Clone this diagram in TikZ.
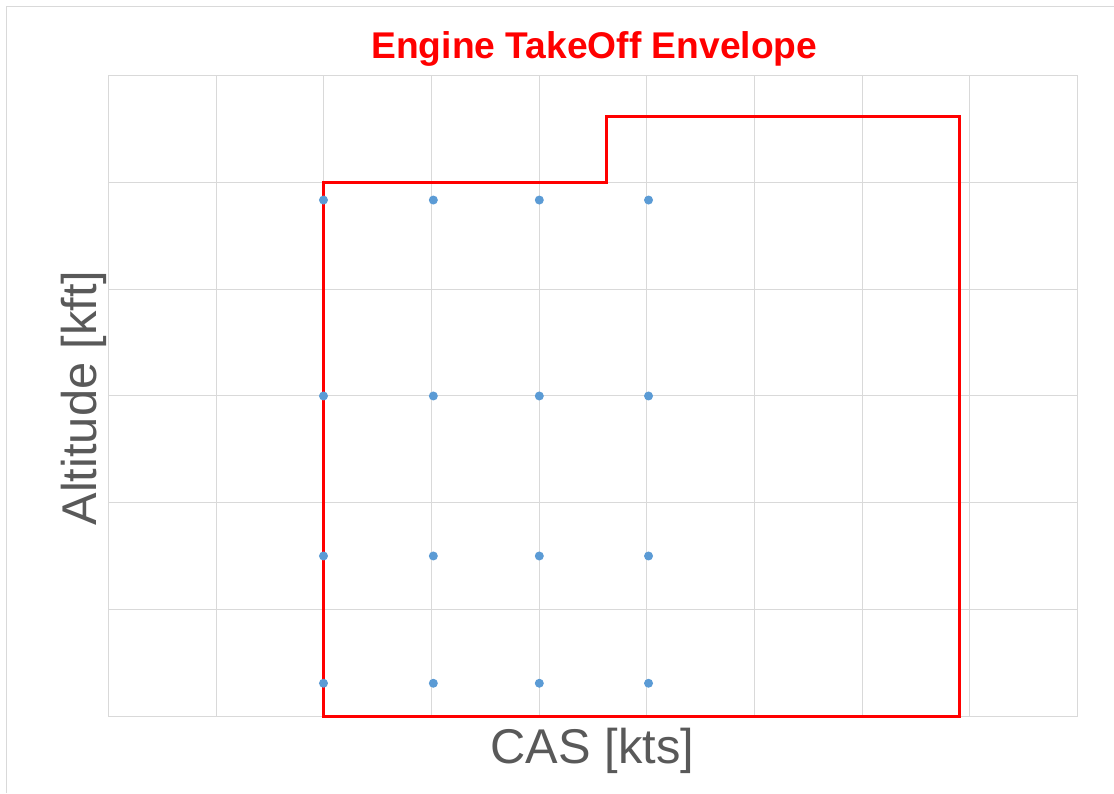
\documentclass[tikz,border=0pt]{standalone}
\usepackage{fontspec}
\setmainfont{Liberation Sans}
\usetikzlibrary{positioning}
\usepackage{xcolor}
\definecolor{gridgray}{HTML}{D9D9D9}
\definecolor{labelgray}{HTML}{595959}
\definecolor{ptblue}{HTML}{5B9BD5}

\begin{document}
\begin{tikzpicture}[x=107.7pt, y=106.67pt,
        gridline/.style={gridgray, line width=1pt},
        envelope/.style={red, line width=3pt, line join=miter},
        testpoint/.style={fill=ptblue},
        axislabel/.style={labelgray, font=\fontsize{48.8}{56}\selectfont, anchor=base, inner sep=0pt}]
        \useasboundingbox (-108.3pt,-77pt) rectangle (1005.7pt,716pt);

        % Outer frame
        \draw[gridgray, line width=1pt] (-101.6pt,-77pt) -- (-101.6pt,709pt) -- (1005.7pt,709pt);

        % Draw grid
        \foreach \x in {0,...,9}
            \draw[gridline] (\x,0) -- (\x,6);
        \foreach \y in {0,...,6}
            \draw[gridline] (0,\y) -- (9,\y);

        % Takeoff envelope
        \draw[envelope] (2,0) -- (2,5) -- (4.624,5) -- (4.624,5.616) -- (7.905,5.616) -- (7.905,0) -- cycle;

        % Test points
        \foreach \x in {1.998, 3.018, 4.002, 5.016}
            \foreach \y in {0.307, 1.5, 3.0, 4.837}
                \fill[testpoint] (\x,\y) circle (4.5pt);

        % Title and axis labels
        \node[red, font=\fontsize{37.2}{42}\selectfont\bfseries, anchor=base, inner sep=0pt] (title) at (486pt,657.7pt) {Engine TakeOff Envelope};
        \node[axislabel] (xlabel) at (484pt,-47.3pt) {CAS [kts]};
        \node[axislabel, rotate=90] (ylabel) at (-11.3pt,318pt) {Altitude [kft]};
\end{tikzpicture}
\end{document}
